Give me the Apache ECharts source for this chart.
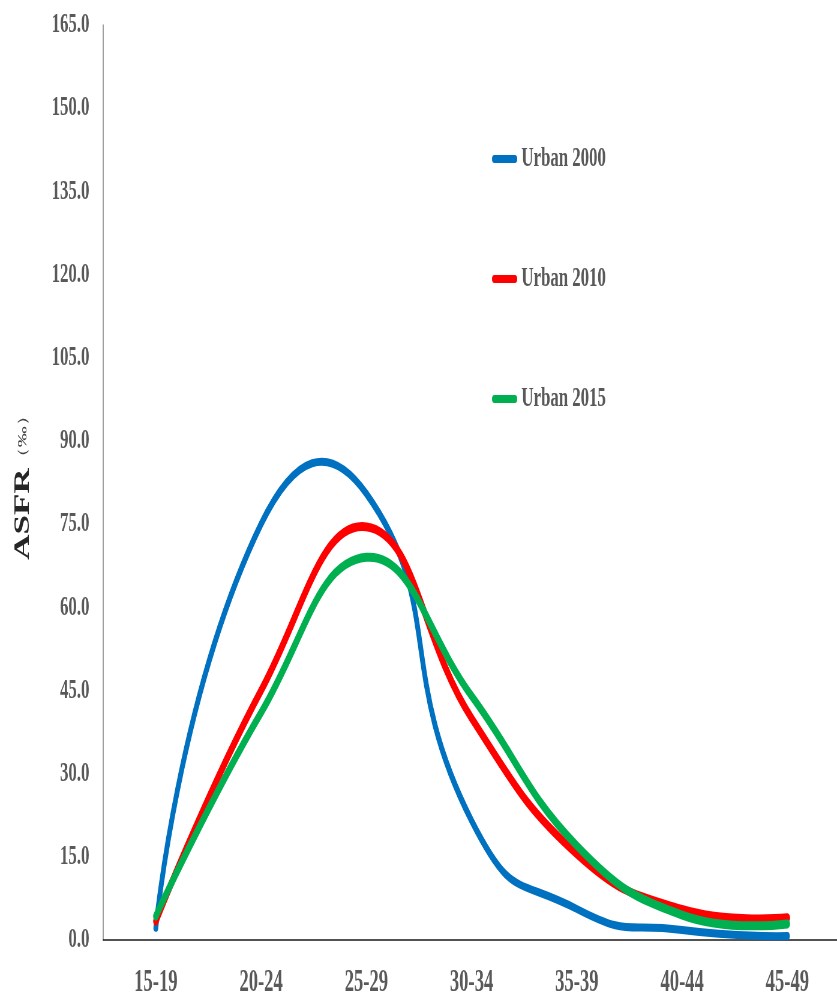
<!DOCTYPE html>
<html>
<head>
<meta charset="utf-8">
<script src="https://cdn.jsdelivr.net/npm/echarts@6/dist/echarts.min.js"></script>
<style>
  html, body { margin: 0; padding: 0; overflow: hidden; background: #fff; }
  /* the reference is squeezed sideways, so draw wide and scale x */
  #chart { width: 1400px; height: 1002px; transform: scaleX(0.6); transform-origin: 0 0; }
</style>
</head>
<body>
<div id="chart"></div>
<script>
const categories = ['15-19', '20-24', '25-29', '30-34', '35-39', '40-44', '45-49'];
const urban2000 = [2.2, 75.0, 80.5, 21.5, 5.6, 1.8, 0.7];
const urban2010 = [3.4, 45.0, 74.5, 40.0, 15.5, 5.5, 4.0];
const urban2015 = [4.3, 41.0, 69.0, 44.0, 17.0, 4.5, 2.9];
const yMin = 0, yMax = 165, yStep = 15;

const serif = '"Liberation Serif", "Times New Roman", serif';
const grey = '#595959';

// Excel-like smoothed line: spline through every point, no clamping
function curve(width, smooth) {
  return function (params, api) {
    if (params.dataIndexInside !== 0) return null;
    const pts = [];
    for (let i = 0; i < params.dataInsideLength; i++) {
      pts.push(api.coord([api.value(0, i), api.value(1, i)]));
    }
    return {
      type: 'polyline',
      shape: { points: pts, smooth: smooth },
      style: {
        fill: null,
        stroke: api.visual('color'),
        lineWidth: width,
        lineCap: 'round',
        lineJoin: 'round'
      }
    };
  };
}

function series(name, values, color, width, smooth) {
  return {
    name: name,
    type: 'custom',
    renderItem: curve(width, smooth),
    itemStyle: { color: color },
    encode: { x: 0, y: 1 },
    data: values.map((v, i) => [i, v])
  };
}

const chart = echarts.init(document.getElementById('chart'), null, { renderer: 'canvas' });
chart.setOption({
  animation: false,
  backgroundColor: '#fff',
  grid: { left: 172, right: 0, top: 25, bottom: 62, containLabel: false },
  legend: {
    orient: 'vertical',
    left: 815,
    top: 140,
    itemGap: 92,
    itemWidth: 42,
    itemHeight: 8,
    icon: 'path://M4,0 L38,0 A4,4 0 0 1 38,8 L4,8 A4,4 0 0 1 4,0 Z',
    textStyle: { fontFamily: serif, fontWeight: 'bold', fontSize: 28, color: grey, padding: [0, 0, 0, 2] },
    data: ['Urban 2000', 'Urban 2010', 'Urban 2015']
  },
  xAxis: {
    type: 'category',
    data: categories,
    boundaryGap: true,
    axisLine: { lineStyle: { color: '#1a1a1a', width: 1.5 } },
    axisTick: { show: false },
    axisLabel: { margin: 27, fontFamily: serif, fontWeight: 'bold', fontSize: 31, color: grey }
  },
  yAxis: {
    type: 'value',
    min: yMin,
    max: yMax,
    interval: yStep,
    name: '{a|ASFR}{b|（‰）}',
    nameLocation: 'middle',
    nameGap: 116,
    nameTextStyle: {
      rich: {
        a: { fontFamily: serif, fontWeight: 'bold', fontSize: 35, color: '#262626' },
        b: { fontFamily: serif, fontSize: 21, color: '#404040' }
      }
    },
    axisLine: { show: true, lineStyle: { color: '#868686', width: 1.6 } },
    axisTick: { show: false },
    splitLine: { show: false },
    axisLabel: {
      margin: 23,
      fontFamily: serif,
      fontWeight: 'bold',
      fontSize: 28,
      color: grey,
      formatter: v => v.toFixed(1)
    }
  },
  series: [
    series('Urban 2000', urban2000, '#0070C0', 8, 0.55),
    series('Urban 2010', urban2010, '#FF0000', 9, 0.45),
    series('Urban 2015', urban2015, '#00B050', 9, 0.45)
  ]
});
</script>
</body>
</html>
